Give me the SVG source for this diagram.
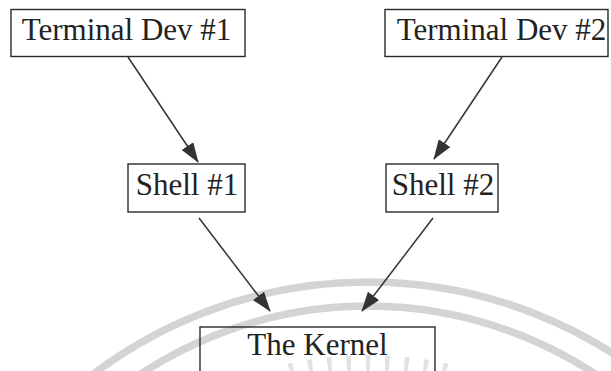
<svg xmlns="http://www.w3.org/2000/svg" width="611" height="371" viewBox="0 0 611 371">
  <style>
    .box { fill: none; stroke: #2a2a2a; stroke-width: 1.4; }
    .label { font-family: "Liberation Serif", "Times New Roman", serif; font-size: 31px; fill: #222; text-anchor: middle; }
    .edge { stroke: #333; stroke-width: 1.5; fill: none; marker-end: url(#arrow); }
    .mark { fill: none; stroke: #d4d4d4; stroke-width: 7.5; }
    .ray { fill: #e2e2e2; }
  </style>
  <defs>
    <marker id="arrow" markerUnits="userSpaceOnUse" markerWidth="20" markerHeight="14" refX="19" refY="7" orient="auto">
      <path d="M0,0 L20,7 L0,14 z" fill="#333"/>
    </marker>
  </defs>

  <rect width="611" height="371" fill="#ffffff"/>

  <!-- background emblem: two concentric arcs and short rays -->
  <g id="emblem">
    <ellipse class="mark" cx="368" cy="730" rx="452" ry="448"/>
    <ellipse class="mark" cx="368" cy="730" rx="418" ry="424"/>
    <g transform="translate(368,730)">
      <polygon class="ray" points="-1.5,-358 -2.5,-375 2.5,-375 1.5,-358" transform="rotate(-12)"/>
      <polygon class="ray" points="-1.5,-358 -2.5,-375 2.5,-375 1.5,-358" transform="rotate(-9)"/>
      <polygon class="ray" points="-1.5,-358 -2.5,-375 2.5,-375 1.5,-358" transform="rotate(-6)"/>
      <polygon class="ray" points="-1.5,-358 -2.5,-375 2.5,-375 1.5,-358" transform="rotate(-3)"/>
      <polygon class="ray" points="-1.5,-358 -2.5,-375 2.5,-375 1.5,-358" transform="rotate(0)"/>
      <polygon class="ray" points="-1.5,-358 -2.5,-375 2.5,-375 1.5,-358" transform="rotate(3)"/>
      <polygon class="ray" points="-1.5,-358 -2.5,-375 2.5,-375 1.5,-358" transform="rotate(6)"/>
      <polygon class="ray" points="-1.5,-358 -2.5,-375 2.5,-375 1.5,-358" transform="rotate(9)"/>
      <polygon class="ray" points="-1.5,-358 -2.5,-375 2.5,-375 1.5,-358" transform="rotate(12)"/>
    </g>
  </g>

  <g id="connectors">
    <line class="edge" x1="128" y1="57" x2="198" y2="162"/>
    <line class="edge" x1="502" y1="57" x2="434" y2="159"/>
    <line class="edge" x1="199" y1="218" x2="270" y2="311"/>
    <line class="edge" x1="433" y1="218" x2="362" y2="311"/>
  </g>

  <g id="terminal1">
    <rect class="box" x="11" y="9.5" width="234" height="47"/>
    <text class="label" x="126.5" y="40">Terminal Dev #1</text>
  </g>
  <g id="terminal2">
    <rect class="box" x="385" y="9.5" width="223" height="47"/>
    <text class="label" x="501.5" y="40">Terminal Dev #2</text>
  </g>
  <g id="shell1">
    <rect class="box" x="128" y="164" width="117" height="48"/>
    <text class="label" x="187" y="195">Shell #1</text>
  </g>
  <g id="shell2">
    <rect class="box" x="386" y="164" width="112" height="48"/>
    <text class="label" x="443" y="195">Shell #2</text>
  </g>
  <g id="kernel">
    <rect class="box" x="200" y="327" width="235" height="60"/>
    <text class="label" x="317.5" y="355">The Kernel</text>
  </g>
</svg>
